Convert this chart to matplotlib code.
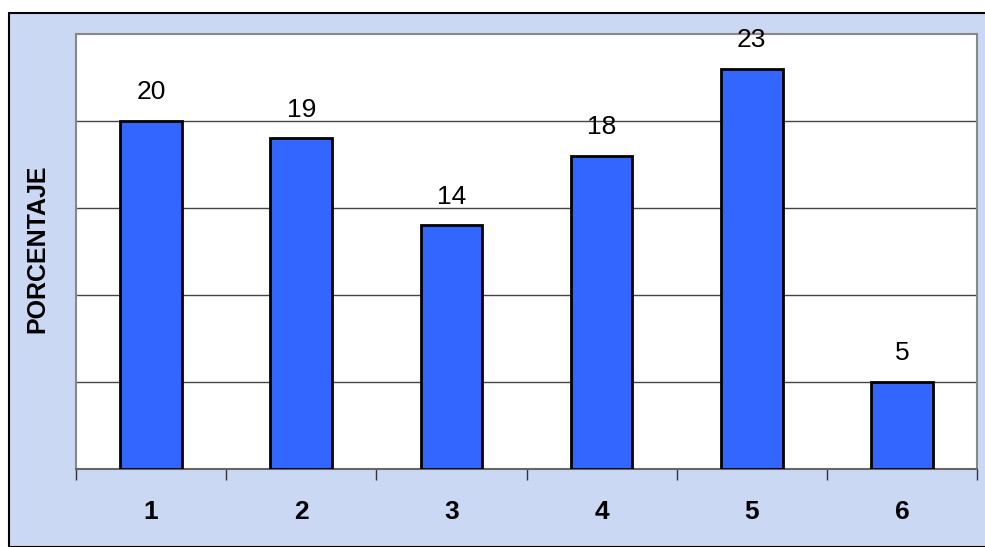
import matplotlib.pyplot as plt
from matplotlib.patches import Rectangle

categorias = ['1', '2', '3', '4', '5', '6']
porcentaje = [20, 19, 14, 18, 23, 5]

plt.rcParams['font.family'] = ['Liberation Sans', 'DejaVu Sans']

W, H = 985, 547
fig = plt.figure(figsize=(W / 100, H / 100), dpi=100)
fig.patch.set_facecolor('white')

# chart area with the bluish background and black frame
fig.patches.append(Rectangle((9 / W, 0), 1, 1 - 13 / H, transform=fig.transFigure,
                             facecolor='#CAD8F3', edgecolor='black', linewidth=1.5,
                             zorder=-1))

ax = fig.add_axes([76 / W, (H - 469) / H, 901 / W, 435 / H])
ax.set_facecolor('white')

x = range(len(categorias))
ax.bar(x, porcentaje, width=0.41, color='#3366FF', edgecolor='black', linewidth=2,
       zorder=3)
for xi, v in zip(x, porcentaje):
    ax.annotate(str(v), (xi, v), xytext=(0, 12), textcoords='offset points',
                ha='center', va='bottom', fontsize=19)

ax.set_xlim(-0.5, len(categorias) - 0.5)
ax.set_ylim(0, 25)
ax.set_yticks([5, 10, 15, 20])
ax.set_yticklabels([])
ax.tick_params(axis='y', length=0)
ax.grid(True, axis='y', color='#444444', linewidth=1)
ax.set_axisbelow(True)

# ticks between categories, labels centred under bars
ax.set_xticks([i - 0.5 for i in range(len(categorias) + 1)])
ax.set_xticklabels([])
ax.set_xticks(list(x), minor=True)
ax.set_xticklabels(categorias, minor=True, fontsize=19, fontweight='bold')
ax.tick_params(axis='x', which='major', length=8, width=1, color='#333333')
ax.tick_params(axis='x', which='minor', length=0, pad=22)

for s in ['left', 'right', 'top']:
    ax.spines[s].set_color('#888888')
    ax.spines[s].set_linewidth(1.5)
ax.spines['bottom'].set_color('#666666')
ax.spines['bottom'].set_linewidth(1.5)

fig.text(37 / W, 1 - 249 / H, 'PORCENTAJE', rotation=90, ha='center', va='center',
         fontsize=18, fontweight='bold')

fig.savefig('out.png', dpi=100)
